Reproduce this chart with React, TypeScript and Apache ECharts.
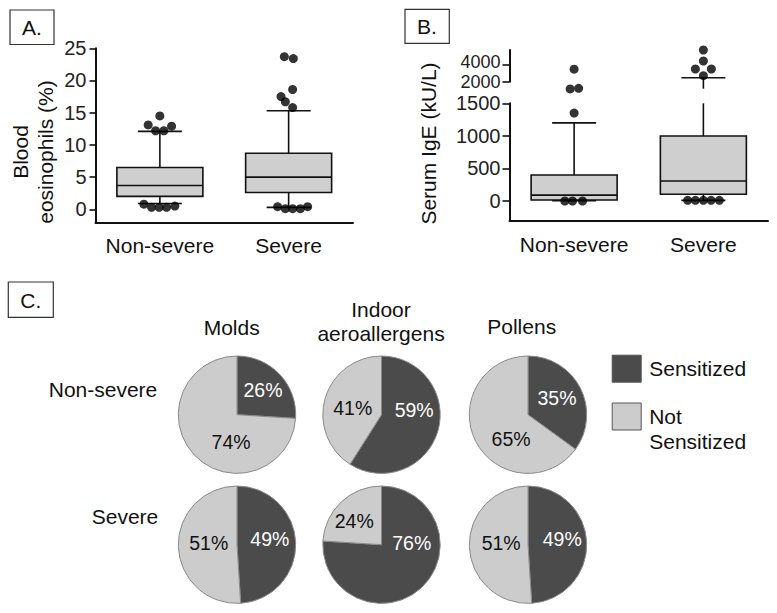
import React, { useEffect, useRef } from 'react';
import * as echarts from 'echarts';

// ---------------- data ----------------
const groups = ['Non-severe', 'Severe'];

// Panel A – blood eosinophils (%): [lower whisker, Q1, median, Q3, upper whisker]
const eosBoxNonSevere = [0.9, 2.0, 3.7, 6.5, 12.1];
const eosBoxSevere = [0.3, 2.6, 5.0, 8.7, 15.3];
const eosOutliersNonSevere = [14.5, 13.1, 12.9, 12.2, 12.2, 0.8, 0.3, 0.3, 0.3, 0.5];
const eosOutliersSevere = [23.7, 23.4, 18.6, 17.5, 16.7, 15.8, 0.4, 0.1, 0.1, 0.1, 0.4];
const eosTicks = [0, 5, 10, 15, 20, 25];

// Panel B – serum IgE (kU/L): [lower whisker, Q1, median, Q3, upper whisker]
const igeBoxNonSevere = [5, 15, 90, 400, 1200];
const igeBoxSevere = [10, 103, 307, 997, 2480];
const igeOutliersNonSevere = [3500, 1720, 1730, 1350, 0, 0, 0];
const igeOutliersSevere = [5800, 4480, 3520, 3520, 2720, 10, 10, 10, 10, 10];
const igeTicksLower = [0, 500, 1000, 1500];
const igeTicksUpper = [2000, 4000];

// Panel C – sensitization (%)
const allergens = ['Molds', 'Indoor\naeroallergens', 'Pollens'];
const severityRows = ['Non-severe', 'Severe'];
const sensitizedNonSevere = [26, 59, 35];
const notSensitizedNonSevere = [74, 41, 65];
const sensitizedSevere = [49, 76, 49];
const notSensitizedSevere = [51, 24, 51];
const legendNames = ['Sensitized', 'Not Sensitized'];

// ---------------- layout / style ----------------
// horizontal jitter (px) of the outlier dots, same order as the outlier arrays
const eosJitterNonSevere = [0, -11.7, 11.7, -4.3, 4, -16, -8.3, -0.7, 6.7, 15];
const eosJitterSevere = [-4.3, 4.7, 4, -7.6, -3.3, 4, -11, -3.3, 4, 11.7, 19];
const igeJitterNonSevere = [0, -4, 4.5, 0, -9.3, -1.6, 8.4];
const igeJitterSevere = [0, 0, -8, 8, 0, -15.7, -8, 0, 7.7, 16];

// pie label shift (px) from the default "inside" position: [row][allergen][slice]
const pieLabelShift = [
  [[[2.4, -2.1], [17.7, 4.7]], [[1.6, -13.7], [2.3, 2.7]], [[0.2, -2.1], [11.9, 9.7]]],
  [[[0.5, -4.8], [4.1, -3]], [[8.1, -25.3], [-5.1, 1.4]], [[1.9, -4.3], [5.5, -2.5]]],
];
const pieColX = [237, 381.5, 528];
const pieRowY = [414.7, 544.7];
const PIE_R = 58.7;
const titleX = [231.7, 381, 521.7];
const titleY = [327, 321, 326];
const rowLabelX = [103, 125];
const rowLabelY = [389.5, 516.7];

const FONT = "'Liberation Sans', Arial, sans-serif";
const INK = '#111';
const BOX_FILL = '#cfcfcf';
const DARK = '#4b4b4b';
const LIGHT = '#cccccc';
const BOX_W = 86;
const CAP_W = 44;
const STUB = 7;
const B_LOWER_MAX = 1500;
const B_UPPER_MIN = 2000;
const B_UPPER_MAX = 5800;
const UPPER_LABEL_LIFT = 6; // the upper-segment labels sit very close together

function narrowAvailable(): boolean {
  try {
    const ctx = document.createElement('canvas').getContext('2d');
    if (!ctx) return false;
    const probe = 'Non-severe Sensitized 59%';
    ctx.font = '40px monospace';
    const a = ctx.measureText(probe).width;
    ctx.font = "40px 'Liberation Sans Narrow', monospace";
    const b = ctx.measureText(probe).width;
    return Math.abs(a - b) > 1;
  } catch (e) {
    return false;
  }
}

function makeBoxRenderer(part: 'all' | 'lower' | 'upper', axisMin?: number, axisMax?: number) {
  return (_params: any, api: any) => {
    const c = api.value(0);
    const [lo, q1, med, q3, hi] = [1, 2, 3, 4, 5].map((k) => api.value(k) as number);
    const X = api.coord([c, med])[0];
    const Y = (v: number) => api.coord([c, v])[1];
    const ink = { stroke: INK, lineWidth: 1.6 };
    const hLine = (y: number, w: number) => ({
      type: 'line',
      shape: { x1: X - w / 2, y1: y, x2: X + w / 2, y2: y },
      style: ink,
    });
    const vLine = (y1: number, y2: number) => ({ type: 'line', shape: { x1: X, y1, x2: X, y2 }, style: ink });
    const children: any[] = [];
    if (part === 'upper') {
      if (axisMin != null && hi > axisMin) {
        children.push(vLine(Y(hi), Y(axisMin) + STUB));
        children.push(hLine(Y(hi), CAP_W));
      }
    } else {
      const top = axisMax != null ? Math.min(hi, axisMax) : hi;
      children.push(vLine(Y(q3), Y(top)));
      if (top === hi) children.push(hLine(Y(hi), CAP_W));
      children.push(vLine(Y(q1), Y(lo)));
      children.push(hLine(Y(lo), CAP_W));
      children.push({
        type: 'rect',
        shape: { x: X - BOX_W / 2, y: Y(q3), width: BOX_W, height: Y(q1) - Y(q3) },
        style: { fill: BOX_FILL, stroke: INK, lineWidth: 1.6 },
      });
      children.push(hLine(Y(med), BOX_W));
    }
    return { type: 'group', children };
  };
}

function dots(values: number[], jitter: number[], group: number, keep: (v: number) => boolean) {
  const out: any[] = [];
  values.forEach((v, i) => {
    if (keep(v)) out.push({ value: [group, v], symbolOffset: [jitter[i], 0] });
  });
  return out;
}

function buildOption() {
  const narrow = narrowAvailable();
  const C_FONT = narrow ? "'Liberation Sans Narrow', 'Liberation Sans', sans-serif" : FONT;
  const cText = narrow ? 25 : 21;
  const cPie = narrow ? 23 : 19.5;

  const axisLineStyle = { color: INK, width: 2 };
  const tickLabel = {
    color: '#222', fontSize: 20, fontFamily: FONT,
    showMinLabel: true, showMaxLabel: true, hideOverlap: false,
    formatter: (v: number) => String(v),
  };
  const tickStyle = { color: INK, width: 1.6 };
  const catLabel = { color: INK, fontSize: 21, fontFamily: FONT, interval: 0 };

  const xAxis = [
    {
      gridIndex: 0, type: 'category', data: groups,
      axisLine: { onZero: false, lineStyle: axisLineStyle }, axisTick: { show: false },
      axisLabel: { ...catLabel, margin: 12 },
    },
    {
      gridIndex: 1, type: 'category', data: groups,
      axisLine: { onZero: false, lineStyle: axisLineStyle }, axisTick: { show: false },
      axisLabel: { ...catLabel, margin: 14 },
    },
    { gridIndex: 2, type: 'category', data: groups, show: false },
  ];
  const yAxis = [
    {
      gridIndex: 0, type: 'value', min: -2.05, max: 25, splitLine: { show: false },
      axisLine: { show: true, lineStyle: axisLineStyle },
      axisTick: { show: true, length: 6, lineStyle: tickStyle, customValues: eosTicks },
      axisLabel: { ...tickLabel, margin: 9, customValues: eosTicks },
    },
    {
      gridIndex: 1, type: 'value', min: -296, max: B_LOWER_MAX, splitLine: { show: false },
      axisLine: { show: true, lineStyle: axisLineStyle },
      axisTick: { show: true, length: 7, lineStyle: tickStyle, customValues: igeTicksLower },
      axisLabel: { ...tickLabel, margin: 9, customValues: igeTicksLower },
    },
    // upper segment of the broken axis: line, ticks and the top label (lifted a little)
    {
      gridIndex: 2, type: 'value', min: B_UPPER_MIN, max: B_UPPER_MAX, splitLine: { show: false },
      axisLine: { show: true, lineStyle: axisLineStyle },
      axisTick: { show: true, length: 7, lineStyle: tickStyle, customValues: igeTicksUpper },
      axisLabel: {
        ...tickLabel, fontSize: 18, margin: 9, customValues: igeTicksUpper.slice(1),
        lineHeight: UPPER_LABEL_LIFT, formatter: (v: number) => String(v) + '\n',
      },
    },
    // same scale, carrying the bottom label of the upper segment
    {
      gridIndex: 2, type: 'value', position: 'left', offset: 0, min: B_UPPER_MIN, max: B_UPPER_MAX,
      splitLine: { show: false }, axisLine: { show: false }, axisTick: { show: false },
      axisLabel: { ...tickLabel, fontSize: 18, margin: 9, customValues: igeTicksUpper.slice(0, 1) },
    },
  ];

  const dotStyle = { color: '#000' };
  const series: any[] = [
    {
      type: 'custom', xAxisIndex: 0, yAxisIndex: 0, silent: true, z: 2,
      renderItem: makeBoxRenderer('all'),
      data: [[0, ...eosBoxNonSevere], [1, ...eosBoxSevere]],
    },
    {
      type: 'scatter', xAxisIndex: 0, yAxisIndex: 0, silent: true, z: 3, clip: false,
      symbolSize: 9, itemStyle: dotStyle,
      data: [
        ...dots(eosOutliersNonSevere, eosJitterNonSevere, 0, () => true),
        ...dots(eosOutliersSevere, eosJitterSevere, 1, () => true),
      ],
    },
    {
      type: 'custom', xAxisIndex: 1, yAxisIndex: 1, silent: true, z: 2,
      renderItem: makeBoxRenderer('lower', undefined, B_LOWER_MAX),
      data: [[0, ...igeBoxNonSevere], [1, ...igeBoxSevere]],
    },
    {
      type: 'custom', xAxisIndex: 2, yAxisIndex: 2, silent: true, z: 2,
      renderItem: makeBoxRenderer('upper', B_UPPER_MIN),
      data: [[0, ...igeBoxNonSevere], [1, ...igeBoxSevere]],
    },
    {
      type: 'scatter', xAxisIndex: 1, yAxisIndex: 1, silent: true, z: 3, clip: false,
      symbolSize: 9, itemStyle: dotStyle,
      data: [
        ...dots(igeOutliersNonSevere, igeJitterNonSevere, 0, (v) => v < B_UPPER_MIN),
        ...dots(igeOutliersSevere, igeJitterSevere, 1, (v) => v < B_UPPER_MIN),
      ],
    },
    {
      type: 'scatter', xAxisIndex: 2, yAxisIndex: 2, silent: true, z: 3, clip: false,
      symbolSize: 9, itemStyle: dotStyle,
      data: [
        ...dots(igeOutliersNonSevere, igeJitterNonSevere, 0, (v) => v >= B_UPPER_MIN),
        ...dots(igeOutliersSevere, igeJitterSevere, 1, (v) => v >= B_UPPER_MIN),
      ],
    },
  ];

  const rows = [
    [sensitizedNonSevere, notSensitizedNonSevere],
    [sensitizedSevere, notSensitizedSevere],
  ];
  const MIN_DY = 2;
  // horizontal shift via asymmetric padding, vertical shift via an empty line of matching height
  const sliceLabel = (s: number[], color: string) => {
    const [dx, dy] = s;
    const lab: any = { color, padding: [0, Math.max(0, -2 * dx), 0, Math.max(0, 2 * dx)] };
    if (Math.abs(dy) >= MIN_DY) lab.lineHeight = 2 * Math.abs(dy);
    return lab;
  };
  rows.forEach(([sens, notSens], r) => {
    allergens.forEach((_a, c) => {
      const sh = pieLabelShift[r][c];
      series.push({
        type: 'pie', silent: true, center: [pieColX[c], pieRowY[r]], radius: PIE_R,
        startAngle: 90, clockwise: true, avoidLabelOverlap: false,
        itemStyle: { borderColor: '#8a8a8a', borderWidth: 1 },
        label: {
          show: true, position: 'inside',
          formatter: (p: any) => {
            const dy = sh[p.dataIndex][1];
            const t = p.value + '%';
            if (dy <= -MIN_DY) return t + '\n';
            if (dy >= MIN_DY) return '\n' + t;
            return t;
          },
          fontSize: cPie, fontFamily: C_FONT,
        },
        labelLine: { show: false },
        emphasis: { disabled: true },
        data: [
          { name: legendNames[0], value: sens[c], itemStyle: { color: DARK }, label: sliceLabel(sh[0], '#fff') },
          { name: legendNames[1], value: notSens[c], itemStyle: { color: LIGHT }, label: sliceLabel(sh[1], INK) },
        ],
      });
    });
  });

  const txt = (text: string, x: number, y: number, size: number, family: string) => ({
    type: 'text', x, y, silent: true,
    style: {
      text, x: 0, y: 0, fill: INK, fontSize: size, fontFamily: family,
      align: 'center', verticalAlign: 'middle', textAlign: 'center', textVerticalAlign: 'middle',
    },
  });
  const box = (x: number, y: number, w: number, h: number) => ({
    type: 'rect', silent: true, shape: { x, y, width: w, height: h },
    style: { fill: '#fff', stroke: '#333', lineWidth: 1.2 },
  });

  const graphic: any[] = [
    box(10, 10, 44, 34.5), txt('A.', 32, 27.5, 21, FONT),
    box(405, 9.3, 44.3, 34), txt('B.', 427, 26.5, 21, FONT),
    box(8.3, 282, 45, 35.3), txt('C.', 30.8, 300, 21, FONT),
    {
      type: 'text', x: 32.7, y: 152, rotation: Math.PI / 2, silent: true,
      style: {
        text: 'Blood\neosinophils (%)', x: 0, y: 0, fill: INK, fontSize: 21, fontFamily: FONT,
        align: 'center', verticalAlign: 'middle', textAlign: 'center', textVerticalAlign: 'middle', lineHeight: 25,
      },
    },
    {
      type: 'text', x: 428.3, y: 143.5, rotation: Math.PI / 2, silent: true,
      style: {
        text: 'Serum IgE (kU/L)', x: 0, y: 0, fill: INK, fontSize: 21, fontFamily: FONT,
        align: 'center', verticalAlign: 'middle', textAlign: 'center', textVerticalAlign: 'middle',
      },
    },
  ];
  allergens.forEach((a, c) => {
    graphic.push({
      type: 'text', x: titleX[c], y: titleY[c], silent: true,
      style: {
        text: a, x: 0, y: 0, fill: INK, fontSize: cText, fontFamily: C_FONT,
        align: 'center', verticalAlign: 'middle', textAlign: 'center', textVerticalAlign: 'middle', lineHeight: 24,
      },
    });
  });
  severityRows.forEach((s, r) => {
    graphic.push(txt(s, rowLabelX[r], rowLabelY[r], cText, C_FONT));
  });

  return {
    animation: false,
    backgroundColor: '#fff',
    grid: [
      { left: 95.5, top: 48.3, width: 257.5, height: 174.2, outerBoundsMode: 'none' },
      { left: 509.5, top: 103.3, width: 258.5, height: 117, outerBoundsMode: 'none' },
      { left: 509.5, top: 50, width: 258.5, height: 31.7, outerBoundsMode: 'none' },
    ],
    xAxis,
    yAxis,
    legend: {
      orient: 'vertical', left: 611.7, top: 354.7, itemWidth: 29, itemHeight: 27, itemGap: -3.7,
      padding: 0, icon: 'rect', selectedMode: false,
      itemStyle: { borderColor: '#555', borderWidth: 1 },
      textStyle: { fontSize: cText, fontFamily: C_FONT, color: INK, lineHeight: 25, padding: [0, 0, 0, 3] },
      formatter: (n: string) => (n === legendNames[1] ? '\n' + n.replace(' ', '\n') : n),
      data: legendNames,
    },
    graphic,
    series,
  };
}

export default function App() {
  const ref = useRef<HTMLDivElement>(null);
  useEffect(() => {
    if (!ref.current) return;
    const chart = echarts.init(ref.current, null, { renderer: 'svg' });
    chart.setOption(buildOption() as any);
    return () => chart.dispose();
  }, []);
  return (
    <div
      ref={ref}
      style={{ position: 'absolute', left: 0, top: 0, width: 777, height: 613, background: '#fff' }}
    />
  );
}
